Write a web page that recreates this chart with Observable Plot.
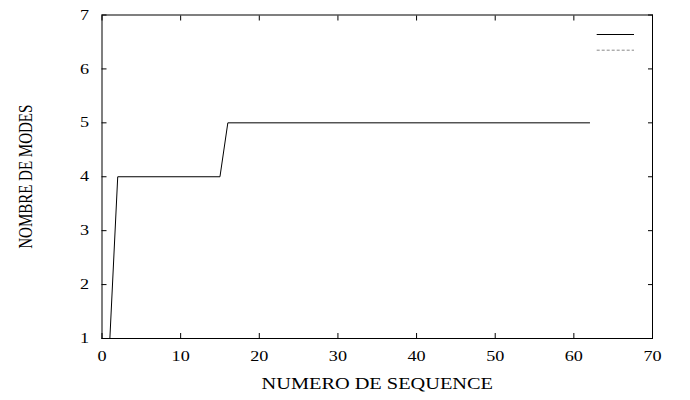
<!DOCTYPE html>
<html><head><meta charset="utf-8">
<script src="https://cdn.jsdelivr.net/npm/d3@7"></script>
<script src="https://cdn.jsdelivr.net/npm/@observablehq/plot@0.6"></script>
<style>
body{margin:0;background:#fff;}
#chart svg{display:block;}
</style></head><body><div id="chart"></div>
<script>
// ---- data ----
const seq = [0, 1, 2, 15, 16, 62];
const modes = [1, 1, 4, 4, 5, 5];
const xTicks = [0, 10, 20, 30, 40, 50, 60, 70];
const yTicks = [1, 2, 3, 4, 5, 6, 7];
const xLabel = "NUMERO DE SEQUENCE";
const yLabel = "NOMBRE DE MODES";
const legendKeys = ["", ""];
const legendColors = ["#000000", "#888888"];
const legendDashes = [null, "3,2"];

const data = seq.map((x, i) => ({x, y: modes[i]}));
const font = "'Liberation Serif', 'Times New Roman', serif";
const W = 690, H = 400, mL = 101.5, mR = 38, mT = 14.5, mB = 62;

const chart = Plot.plot({
  width: W, height: H,
  marginLeft: mL, marginRight: mR, marginTop: mT, marginBottom: mB,
  style: {fontFamily: font, fontSize: "14.5px", color: "#000", background: "#fff", overflow: "visible"},
  x: {domain: [0, 70], ticks: xTicks},
  y: {domain: [1, 7], ticks: yTicks},
  marks: [
    Plot.line(data, {x: "x", y: "y", stroke: "#000", strokeWidth: 1}),
    Plot.frame({stroke: "#000", strokeWidth: 1}),
    Plot.axisX(xTicks, {anchor: "bottom", tickSize: 0, tickPadding: 12, label: null, fontSize: 14.5, tickFormat: d => String(d)}),
    Plot.axisX(xTicks, {anchor: "bottom", tickSize: -5, tickFormat: () => "", label: null}),
    Plot.axisX(xTicks, {anchor: "top", tickSize: -5, tickFormat: () => "", label: null}),
    Plot.axisY(yTicks, {anchor: "left", tickSize: 0, tickPadding: 13, label: null, fontSize: 14.5, tickFormat: d => String(d)}),
    Plot.axisY(yTicks, {anchor: "left", tickSize: -5, tickFormat: () => "", label: null}),
    Plot.axisY(yTicks, {anchor: "right", tickSize: -5, tickFormat: () => "", label: null}),
    Plot.text([xLabel], {frameAnchor: "bottom", textAnchor: "middle", dy: 45.7, lineAnchor: "middle", fontSize: 16, className: "xlab"}),
    Plot.text([yLabel], {frameAnchor: "left", textAnchor: "middle", rotate: -90, dx: -76.5, lineAnchor: "middle", fontSize: 15, className: "ylab"})
  ]
});
document.getElementById("chart").appendChild(chart);

const svg = d3.select(chart);
// horizontal stretch of horizontal texts (reference glyphs are wide)
svg.selectAll("g[aria-label='x-axis tick label'] text, g[aria-label='y-axis tick label'] text").each(function() {
  const w = this.getComputedTextLength();
  if (w > 0) { this.setAttribute("textLength", w * 1.25); this.setAttribute("lengthAdjust", "spacingAndGlyphs"); }
});
svg.selectAll(".xlab text").each(function() {
  const w = this.getComputedTextLength();
  this.setAttribute("textLength", w * 1.27); this.setAttribute("lengthAdjust", "spacingAndGlyphs");
});
svg.selectAll(".ylab text").each(function() {
  const t = this.getAttribute("transform") || "";
  this.setAttribute("transform", t + " scale(1,1.3)");
});

// legend (key samples, top-right inside frame)
const right = W - mR;
const lg = svg.append("g").attr("class", "legend");
legendKeys.forEach((k, i) => {
  const y = mT + 20 + i * 15.7;
  lg.append("line").attr("x1", right - 55.3).attr("x2", right - 18).attr("y1", y).attr("y2", y)
    .attr("stroke", legendColors[i]).attr("stroke-width", 1).attr("stroke-dasharray", legendDashes[i]);
  lg.append("text").attr("x", right - 60).attr("y", y).attr("dy", "0.32em").attr("text-anchor", "end")
    .attr("font-family", font).attr("font-size", 14.5).text(k);
});
</script>
</body></html>
